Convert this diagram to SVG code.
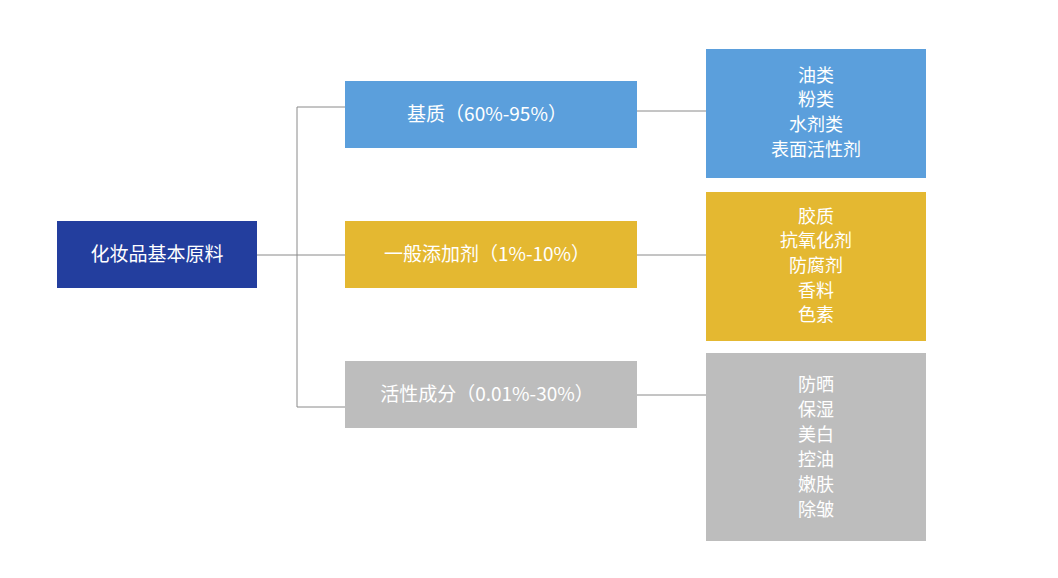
<svg xmlns="http://www.w3.org/2000/svg" width="1058" height="578" viewBox="0 0 1058 578">
<style>
text{font-family:"Noto Sans CJK SC","Liberation Sans",sans-serif;font-size:19px;fill:#fff;text-anchor:middle}
.s{font-size:18px}
.c{stroke:#8a8a8a;stroke-width:1;fill:none}
</style>
<rect width="1058" height="578" fill="#fff"/>
<g id="connectors">
<path class="c" d="M257 255H297M297 107V407M297 107H345M297 255H345M297 407H345M637 111H706M637 255H706M637 395H706"/>
</g>
<g id="root"><rect x="57" y="221" width="200" height="67" fill="#233E9E"/><text x="157" y="261">化妆品基本原料</text></g>
<g id="base"><rect x="345" y="81" width="292" height="67" fill="#5B9FDC"/><text x="487" y="121">基质（60%-95%）</text></g>
<g id="additive"><rect x="345" y="221" width="292" height="67" fill="#E4B831"/><text x="487" y="261">一般添加剂（1%-10%）</text></g>
<g id="active"><rect x="345" y="361" width="292" height="67" fill="#BDBDBD"/><text x="487" y="401">活性成分（0.01%-30%）</text></g>
<g id="base-items" class="s"><rect x="706" y="49" width="220" height="129" fill="#5B9FDC"/>
<text class="s" x="816" y="82">油类</text><text class="s" x="816" y="106">粉类</text><text class="s" x="816" y="131">水剂类</text><text class="s" x="816" y="156">表面活性剂</text></g>
<g id="additive-items"><rect x="706" y="192" width="220" height="149" fill="#E4B831"/>
<text class="s" x="816" y="223">胶质</text><text class="s" x="816" y="247">抗氧化剂</text><text class="s" x="816" y="272">防腐剂</text><text class="s" x="816" y="297">香料</text><text class="s" x="816" y="321">色素</text></g>
<g id="active-items"><rect x="706" y="353" width="220" height="188" fill="#BDBDBD"/>
<text class="s" x="816" y="391">防晒</text><text class="s" x="816" y="416">保湿</text><text class="s" x="816" y="441">美白</text><text class="s" x="816" y="466">控油</text><text class="s" x="816" y="491">嫩肤</text><text class="s" x="816" y="516">除皱</text></g>
</svg>
